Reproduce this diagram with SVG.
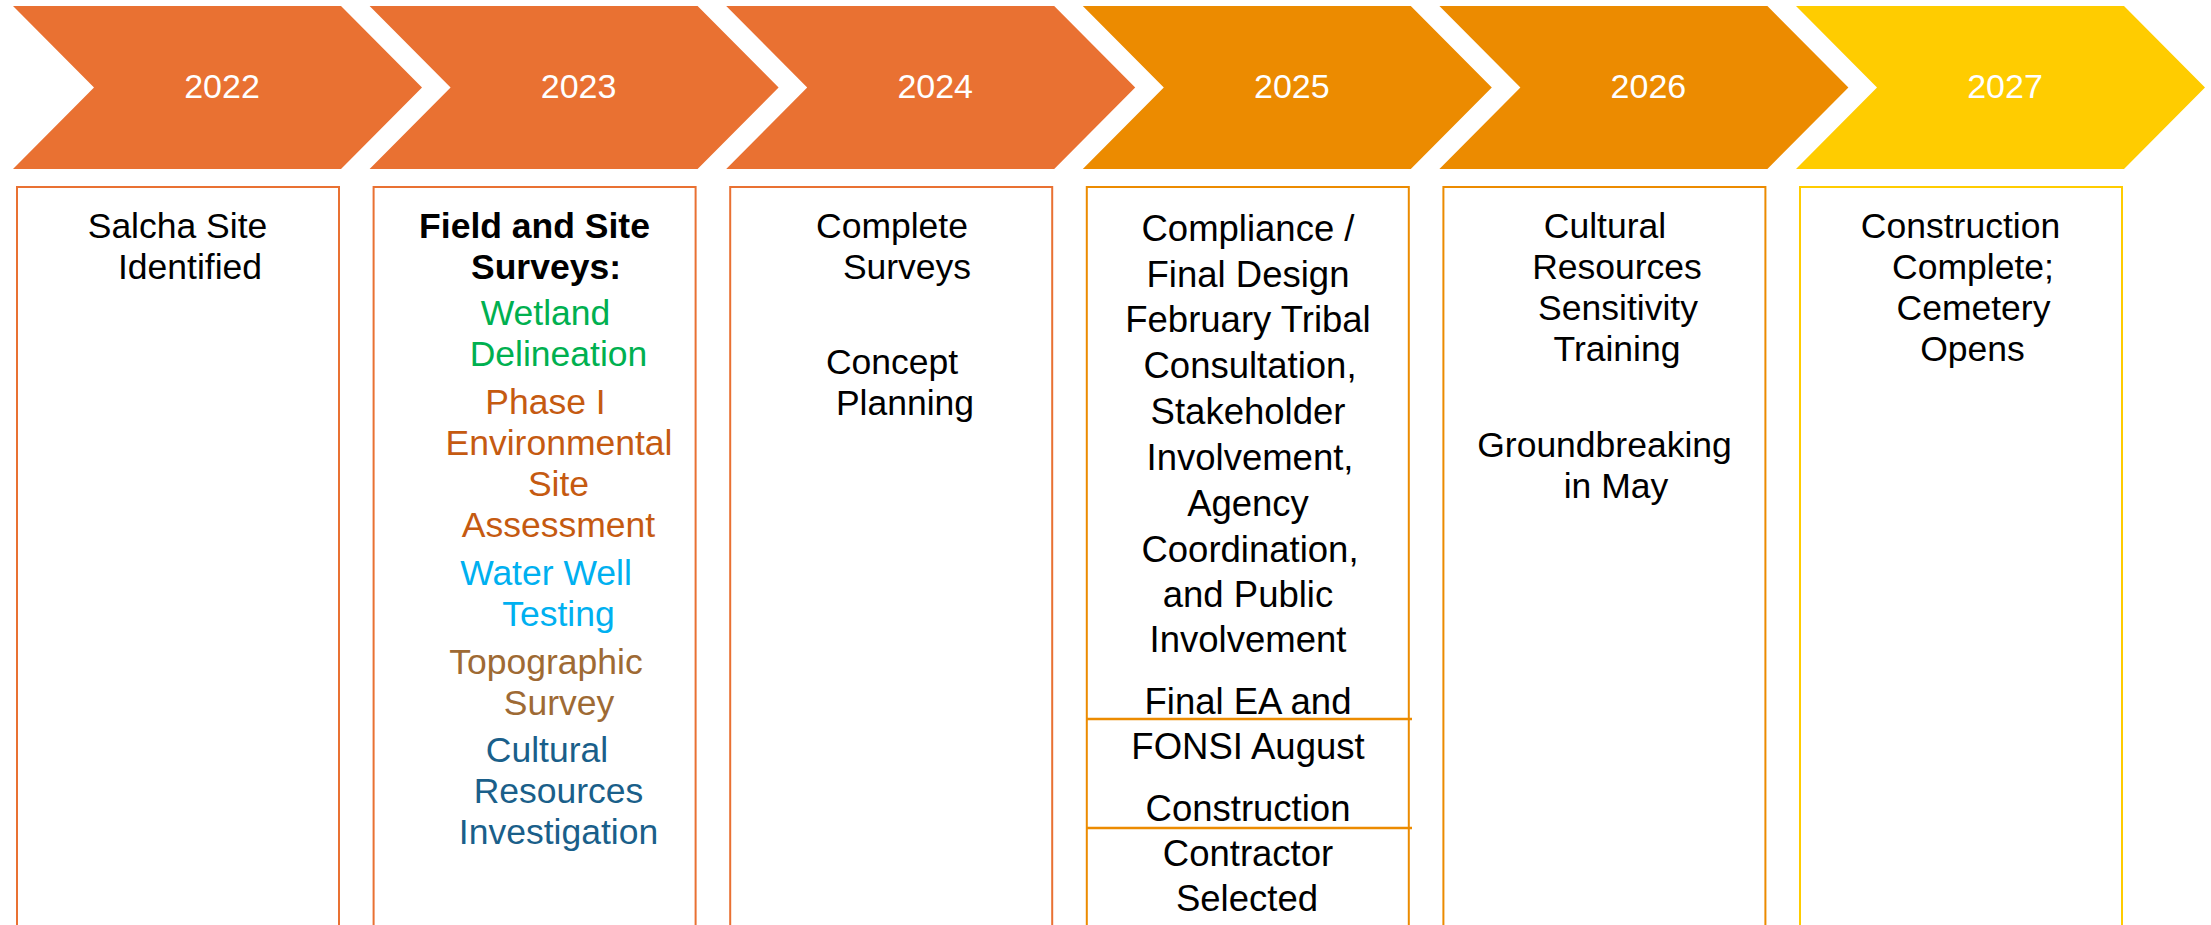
<svg xmlns="http://www.w3.org/2000/svg" width="2211" height="925" viewBox="0 0 2211 925">
<style>
.c1{fill:#E97132}.c2{fill:#EC8B00}.c3{fill:#FFCC00}
.yr{font-family:"Liberation Sans",Arial,sans-serif;font-size:34px;fill:#FFFFFF;text-anchor:middle}
.box{fill:#FFFFFF;stroke-width:2}
.b1{stroke:#E97132}.b2{stroke:#EC8B00}.b3{stroke:#FFCC00}
.t{font-family:"Liberation Sans",Arial,sans-serif;font-size:35.5px;fill:#000000;text-anchor:middle}
.t4{font-family:"Liberation Sans",Arial,sans-serif;font-size:36.5px;fill:#000000;text-anchor:middle}
.bold{font-weight:bold}
.green{fill:#00B050}.rust{fill:#C55A11}.cyan{fill:#00B0F0}.tan{fill:#9E6A34}.teal{fill:#1A5F8A}
.div{stroke:#EC8B00;stroke-width:2.5}
</style>
<rect width="2211" height="925" fill="#FFFFFF"/>

<g id="year-2022">
<polygon class="c1" points="13,6 341,6 422,87.5 341,169 13,169 94,87.5"/>
<text class="yr" x="222" y="98">2022</text>
</g>
<g id="year-2023">
<polygon class="c1" points="369.6,6 697.6,6 778.6,87.5 697.6,169 369.6,169 450.6,87.5"/>
<text class="yr" x="578.6" y="98">2023</text>
</g>
<g id="year-2024">
<polygon class="c1" points="726.2,6 1054.2,6 1135.2,87.5 1054.2,169 726.2,169 807.2,87.5"/>
<text class="yr" x="935.2" y="98">2024</text>
</g>
<g id="year-2025">
<polygon class="c2" points="1082.8,6 1410.8,6 1491.8,87.5 1410.8,169 1082.8,169 1163.8,87.5"/>
<text class="yr" x="1291.8" y="98">2025</text>
</g>
<g id="year-2026">
<polygon class="c2" points="1439.4,6 1767.4,6 1848.4,87.5 1767.4,169 1439.4,169 1520.4,87.5"/>
<text class="yr" x="1648.4" y="98">2026</text>
</g>
<g id="year-2027">
<polygon class="c3" points="1796,6 2124,6 2205,87.5 2124,169 1796,169 1877,87.5"/>
<text class="yr" x="2005" y="98">2027</text>
</g>

<g id="box-2022">
<rect class="box b1" x="17" y="187" width="322" height="760"/>
<text class="t" x="177.5" y="238">Salcha Site</text>
<text class="t" x="190" y="279">Identified</text>
</g>

<g id="box-2023">
<rect class="box b1" x="373.6" y="187" width="322" height="760"/>
<text class="t bold" x="534.5" y="238">Field and Site</text>
<text class="t bold" x="546" y="279">Surveys:</text>
<text class="t green" x="545.5" y="325">Wetland</text>
<text class="t green" x="558.5" y="366">Delineation</text>
<text class="t rust" x="545.5" y="414">Phase I</text>
<text class="t rust" x="559" y="455">Environmental</text>
<text class="t rust" x="558.5" y="496">Site</text>
<text class="t rust" x="558.5" y="537">Assessment</text>
<text class="t cyan" x="546" y="585">Water Well</text>
<text class="t cyan" x="558.5" y="626">Testing</text>
<text class="t tan" x="546" y="674">Topographic</text>
<text class="t tan" x="559" y="715">Survey</text>
<text class="t teal" x="547" y="762">Cultural</text>
<text class="t teal" x="558.5" y="803">Resources</text>
<text class="t teal" x="558.5" y="844">Investigation</text>
</g>

<g id="box-2024">
<rect class="box b1" x="730.2" y="187" width="322" height="760"/>
<text class="t" x="892" y="238">Complete</text>
<text class="t" x="907" y="279">Surveys</text>
<text class="t" x="892" y="374">Concept</text>
<text class="t" x="905" y="415">Planning</text>
</g>

<g id="box-2025">
<rect class="box b2" x="1086.8" y="187" width="322" height="760"/>
<line class="div" x1="1087" y1="719" x2="1412" y2="719"/>
<line class="div" x1="1087" y1="828" x2="1412" y2="828"/>
<text class="t4" x="1248" y="241">Compliance /</text>
<text class="t4" x="1248" y="287">Final Design</text>
<text class="t4" x="1248" y="332">February Tribal</text>
<text class="t4" x="1250" y="378">Consultation,</text>
<text class="t4" x="1248" y="424">Stakeholder</text>
<text class="t4" x="1250" y="470">Involvement,</text>
<text class="t4" x="1248" y="516">Agency</text>
<text class="t4" x="1250" y="562">Coordination,</text>
<text class="t4" x="1248" y="607">and Public</text>
<text class="t4" x="1248" y="652">Involvement</text>
<text class="t4" x="1248" y="714">Final EA and</text>
<text class="t4" x="1248" y="759">FONSI August</text>
<text class="t4" x="1248" y="821">Construction</text>
<text class="t4" x="1248" y="866">Contractor</text>
<text class="t4" x="1247" y="911">Selected</text>
</g>

<g id="box-2026">
<rect class="box b2" x="1443.4" y="187" width="322" height="760"/>
<text class="t" x="1605" y="238">Cultural</text>
<text class="t" x="1617" y="279">Resources</text>
<text class="t" x="1618" y="320">Sensitivity</text>
<text class="t" x="1617" y="361">Training</text>
<text class="t" x="1604.5" y="457">Groundbreaking</text>
<text class="t" x="1616" y="498">in May</text>
</g>

<g id="box-2027">
<rect class="box b3" x="1800" y="187" width="322" height="760"/>
<text class="t" x="1960.5" y="238">Construction</text>
<text class="t" x="1973" y="279">Complete;</text>
<text class="t" x="1973.5" y="320">Cemetery</text>
<text class="t" x="1972.5" y="361">Opens</text>
</g>

<g id="connectors"/>
</svg>
